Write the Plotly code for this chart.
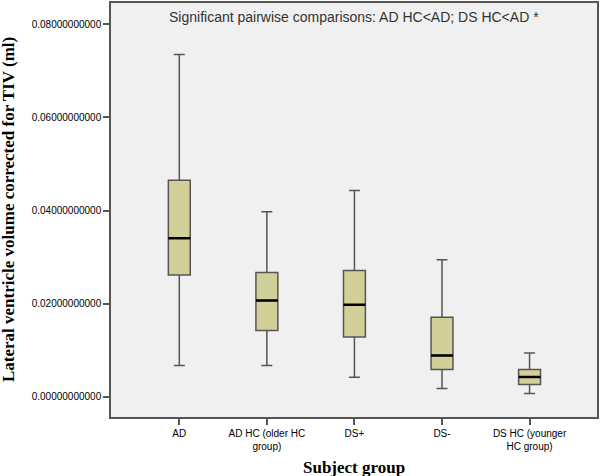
import plotly.graph_objects as go

categories = ["AD", "AD HC (older HC<br>group)", "DS+", "DS-", "DS HC (younger<br>HC group)"]
lower_whisker = [0.00671, 0.00671, 0.00421, 0.00180, 0.00073]
q1_vals = [0.02616, 0.01425, 0.01282, 0.00586, 0.00265]
median_vals = [0.03406, 0.02066, 0.01975, 0.00885, 0.00427]
q3_vals = [0.04652, 0.02671, 0.02714, 0.01710, 0.00586]
upper_whisker = [0.07350, 0.03975, 0.04432, 0.02943, 0.00940]
y_ticks = [0.0, 0.02, 0.04, 0.06, 0.08]

fig = go.Figure()
fig.add_trace(go.Box(
    x=categories, q1=q1_vals, median=median_vals, q3=q3_vals,
    lowerfence=lower_whisker, upperfence=upper_whisker,
    fillcolor="#D3CF98", line=dict(color="#555555", width=1.5),
    width=0.25, whiskerwidth=0.5, showlegend=False, hoverinfo="skip",
))
# black median line overlay
fig.add_trace(go.Box(
    x=categories, q1=median_vals, median=median_vals, q3=median_vals,
    lowerfence=median_vals, upperfence=median_vals,
    fillcolor="rgba(0,0,0,0)", line=dict(color="black", width=2.5),
    width=0.25, whiskerwidth=0, showlegend=False, hoverinfo="skip",
))

fig.update_layout(
    width=600, height=476,
    margin=dict(l=111, r=3, t=1, b=59),
    paper_bgcolor="white", plot_bgcolor="#F0F0F0",
    boxmode="overlay",
    font=dict(family="Liberation Sans, Arial, sans-serif", size=10, color="black"),
    xaxis=dict(
        type="category", range=[-0.78, 4.77],
        showline=True, mirror=True, linecolor="#555555", linewidth=1.5,
        ticks="outside", ticklen=6, tickcolor="#555555", tickwidth=1.5,
        showgrid=False, zeroline=False,
        tickfont=dict(size=10, color="black"),
    ),
    yaxis=dict(
        range=[-0.00434, 0.08456],
        tickvals=y_ticks, tickformat=".11f",
        showline=True, mirror=True, linecolor="#555555", linewidth=1.5,
        ticks="outside", ticklen=6, tickcolor="#555555", tickwidth=1.5,
        showgrid=False, zeroline=False,
        tickfont=dict(size=10, color="black"),
    ),
    annotations=[
        dict(text="Significant pairwise comparisons: AD HC<AD; DS HC<AD *",
             xref="paper", yref="paper", x=0.5, y=1, yshift=-14,
             xanchor="center", yanchor="middle", showarrow=False,
             font=dict(family="Liberation Sans, Arial, sans-serif", size=14, color="#333333")),
        dict(text="<b>Lateral ventricle volume corrected for TIV (ml)</b>",
             xref="paper", yref="paper", x=0, y=0.5, xshift=-103, textangle=-90,
             xanchor="center", yanchor="middle", showarrow=False,
             font=dict(family="Liberation Serif, Times New Roman, serif", size=17, color="black")),
        dict(text="<b>Subject group</b>",
             xref="paper", yref="paper", x=0.5, y=0, yshift=-50,
             xanchor="center", yanchor="middle", showarrow=False,
             font=dict(family="Liberation Serif, Times New Roman, serif", size=17, color="black")),
    ],
)

fig.write_html("out.html",
               config={"displayModeBar": False},
               post_script="document.body.style.margin='0';document.body.style.overflow='hidden';")
